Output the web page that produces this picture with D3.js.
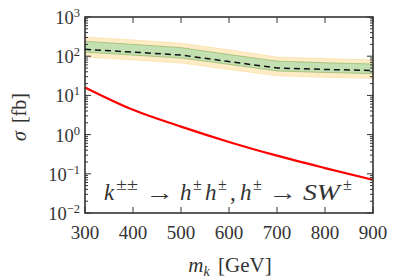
<!DOCTYPE html>
<html><head><meta charset="utf-8">
<script src="https://cdn.jsdelivr.net/npm/d3@7"></script>
<style>body{margin:0;background:#fff}svg{display:block}</style>
</head><body>
<svg id="c" width="395" height="280"></svg>
<script>
const masses = [300, 400, 500, 600, 700, 800, 900];
const signal = [16, 4.3, 1.6, 0.65, 0.29, 0.14, 0.07];
const limitExp = [150, 127, 107, 73, 50, 46, 43];
const green1Lo = [127, 107, 90, 62, 42, 38.5, 36];
const green1Hi = [240, 200, 165, 110, 75, 68, 63];
const yellow2Lo = [95, 80, 67, 46, 31.5, 29, 27];
const yellow2Hi = [310, 260, 215, 145, 95, 87, 81];
const xTicks = [300, 400, 500, 600, 700, 800, 900];
const yExps = [-2, -1, 0, 1, 2, 3];

const svg = d3.select("#c");
const FONT = "Liberation Serif, Times New Roman, DejaVu Serif, serif";
const L = 85, R = 373, T = 17, B = 213;
const x = d3.scaleLinear().domain([300, 900]).range([L, R]);
const y = d3.scaleLog().domain([1e-2, 1e3]).range([B, T]);
const rows = masses.map((m, i) => ({m, s: signal[i], e: limitExp[i], gl: green1Lo[i], gh: green1Hi[i], yl: yellow2Lo[i], yh: yellow2Hi[i]}));

const g = svg.append("g");
g.append("path").datum(rows)
  .attr("d", d3.area().x(d => x(d.m)).y0(d => y(d.yl)).y1(d => y(d.yh)))
  .attr("fill", "#fcdc96").attr("fill-opacity", 0.55).attr("stroke", "#f7cf7c").attr("stroke-opacity", 0.5).attr("stroke-width", 0.8);
g.append("path").datum(rows)
  .attr("d", d3.area().x(d => x(d.m)).y0(d => y(d.gl)).y1(d => y(d.gh)))
  .attr("fill", "#a9dcaa").attr("fill-opacity", 0.7).attr("stroke", "#9dbb6e").attr("stroke-width", 0.8);
g.append("path").datum(rows)
  .attr("d", d3.line().x(d => x(d.m)).y(d => y(d.e)))
  .attr("fill", "none").attr("stroke", "#111").attr("stroke-width", 1.5).attr("stroke-dasharray", "6,4");
g.append("path").datum(rows)
  .attr("d", d3.line().curve(d3.curveMonotoneX).x(d => x(d.m)).y(d => y(d.s)))
  .attr("fill", "none").attr("stroke", "#f00").attr("stroke-width", 2.2);

// ticks
const tk = svg.append("g").attr("stroke", "#333").attr("stroke-width", 1);
xTicks.forEach(v => {
  tk.append("line").attr("x1", x(v)).attr("x2", x(v)).attr("y1", B).attr("y2", B - 6);
  tk.append("line").attr("x1", x(v)).attr("x2", x(v)).attr("y1", T).attr("y2", T + 6);
});
for (let e = -2; e <= 3; e++) {
  for (let k = 1; k <= 9; k++) {
    const v = k * Math.pow(10, e);
    if (v > 1e3 + 1e-9) continue;
    const len = k === 1 ? 6 : 3;
    tk.append("line").attr("x1", L).attr("x2", L + len).attr("y1", y(v)).attr("y2", y(v));
    tk.append("line").attr("x1", R).attr("x2", R - len).attr("y1", y(v)).attr("y2", y(v));
  }
}
svg.append("rect").attr("x", L).attr("y", T).attr("width", R - L).attr("height", B - T)
  .attr("fill", "none").attr("stroke", "#333").attr("stroke-width", 1.6);

const txt = (sel) => sel.style("font-family", FONT).attr("fill", "#333");

// tick labels
xTicks.forEach(v => {
  txt(svg.append("text")).attr("x", x(v)).attr("y", 239).attr("text-anchor", "middle")
    .attr("font-size", 19).text(v);
});
yExps.forEach(e => {
  const t = txt(svg.append("text")).attr("x", 80).attr("y", y(Math.pow(10, e)) + 7).attr("text-anchor", "end").attr("font-size", 18.5);
  t.append("tspan").text("10");
  t.append("tspan").attr("dy", -7).attr("font-size", 12.5).text(e < 0 ? "\u2212" + (-e) : e);
});

// axis labels
const xl = txt(svg.append("text")).attr("x", 230).attr("y", 272).attr("text-anchor", "middle").attr("font-size", 21);
xl.append("tspan").attr("font-style", "italic").text("m");
xl.append("tspan").attr("font-style", "italic").attr("font-size", 14).attr("dy", 4).text("k");
xl.append("tspan").attr("dy", -4).attr("dx", 3).text(" [GeV]");

const yl = txt(svg.append("text")).attr("transform", "translate(26,117) rotate(-90)").attr("text-anchor", "middle").attr("font-size", 20);
yl.append("tspan").attr("font-style", "italic").text("\u03c3");
yl.append("tspan").attr("dx", 3).text(" [fb]");

// annotation, placed piece by piece like typeset math
const an = txt(svg.append("text")).attr("y", 200).attr("font-size", 23);
const BASE_Y = 200, SUP_Y = 190;
const put = (xp, s, opts = {}) => {
  const t = an.append("tspan").attr("x", xp).attr("y", opts.sup ? SUP_Y : BASE_Y).text(s);
  if (opts.sup) t.attr("font-size", 16);
  if (opts.it) t.attr("font-style", "italic");
  if (opts.len) t.attr("textLength", opts.len).attr("lengthAdjust", "spacingAndGlyphs");
};
put(104, "k", {it: true});
put(116, "\u00b1\u00b1", {sup: true, len: 22});
put(145, "\u2192", {len: 29});
put(180, "h", {it: true});
put(193, "\u00b1", {sup: true});
put(205, "h", {it: true});
put(218, "\u00b1", {sup: true});
put(230, ",");
put(240, "h", {it: true});
put(253, "\u00b1", {sup: true});
put(268, "\u2192", {len: 29});
put(303, "SW", {it: true, len: 37});
put(343, "\u00b1", {sup: true});
</script>
</body></html>
